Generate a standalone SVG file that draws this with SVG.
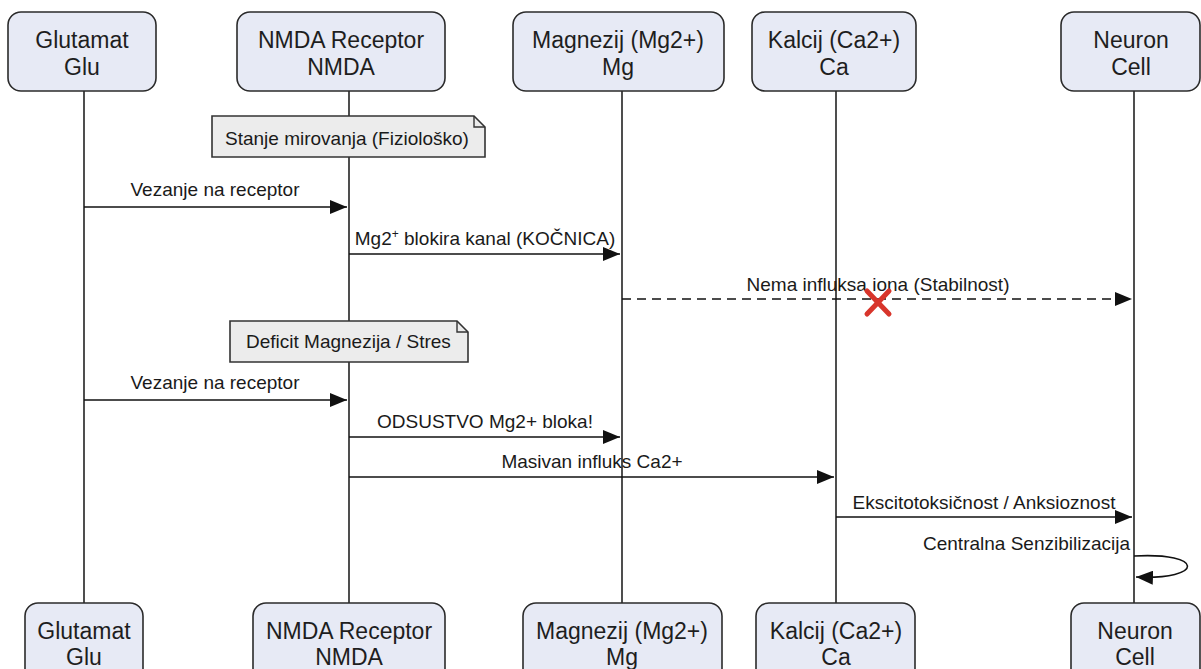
<svg xmlns="http://www.w3.org/2000/svg" width="1201" height="669" viewBox="0 0 1201 669">
<defs>
<style>
.box{fill:#e7eaf5;stroke:#2b2b2b;stroke-width:1.6}
.bt{font-family:"Liberation Sans",Arial,sans-serif;font-size:23px;fill:#1e1e1e;text-anchor:middle}
.life{stroke:#222;stroke-width:1.6;fill:none}
.msg{stroke:#111;stroke-width:1.6;fill:none}
.lbl{font-family:"Liberation Sans",Arial,sans-serif;font-size:19px;fill:#1a1a1a;text-anchor:middle}
.note{fill:#ececec;stroke:#333;stroke-width:1.6}
.nt{font-family:"Liberation Sans",Arial,sans-serif;font-size:19px;fill:#1a1a1a}
</style>
<marker id="ah" markerWidth="18" markerHeight="14" refX="17" refY="7" orient="auto" markerUnits="userSpaceOnUse">
<path d="M0,0 L17,7 L0,14 z" fill="#111"/>
</marker>
</defs>
<rect width="1201" height="669" fill="#ffffff"/>
<g id="lifelines">
<line class="life" x1="84" y1="91" x2="84" y2="603"/>
<line class="life" x1="349" y1="91" x2="349" y2="603"/>
<line class="life" x1="622" y1="91" x2="622" y2="603"/>
<line class="life" x1="836" y1="91" x2="836" y2="603"/>
<line class="life" x1="1134" y1="91" x2="1134" y2="603"/>
</g>
<g id="glu-top"><rect class="box" x="8" y="12" width="148" height="79" rx="13"/><text class="bt" x="82" y="48">Glutamat</text><text class="bt" x="82" y="75">Glu</text></g>
<g id="nmda-top"><rect class="box" x="237" y="12" width="208" height="79" rx="13"/><text class="bt" x="341" y="48">NMDA Receptor</text><text class="bt" x="341" y="75">NMDA</text></g>
<g id="mg-top"><rect class="box" x="513" y="12" width="211" height="79" rx="13"/><text class="bt" x="618" y="48">Magnezij (Mg2+)</text><text class="bt" x="618" y="75">Mg</text></g>
<g id="ca-top"><rect class="box" x="752" y="12" width="164" height="79" rx="13"/><text class="bt" x="834" y="48">Kalcij (Ca2+)</text><text class="bt" x="834" y="75">Ca</text></g>
<g id="neuron-top"><rect class="box" x="1061" y="12" width="139" height="79" rx="13"/><text class="bt" x="1131" y="48">Neuron</text><text class="bt" x="1131" y="75">Cell</text></g>
<g id="glu-bot"><rect class="box" x="25" y="603" width="118" height="80" rx="13"/><text class="bt" x="84" y="639">Glutamat</text><text class="bt" x="84" y="665">Glu</text></g>
<g id="nmda-bot"><rect class="box" x="253" y="603" width="192" height="80" rx="13"/><text class="bt" x="349" y="639">NMDA Receptor</text><text class="bt" x="349" y="665">NMDA</text></g>
<g id="mg-bot"><rect class="box" x="523" y="603" width="199" height="80" rx="13"/><text class="bt" x="622" y="639">Magnezij (Mg2+)</text><text class="bt" x="622" y="665">Mg</text></g>
<g id="ca-bot"><rect class="box" x="756" y="603" width="159" height="80" rx="13"/><text class="bt" x="836" y="639">Kalcij (Ca2+)</text><text class="bt" x="836" y="665">Ca</text></g>
<g id="neuron-bot"><rect class="box" x="1071" y="603" width="129" height="80" rx="13"/><text class="bt" x="1135" y="639">Neuron</text><text class="bt" x="1135" y="665">Cell</text></g>
<g id="note1"><path class="note" d="M212,116 L474,116 L485,127 L485,157 L212,157 Z"/><path d="M474,116 L474,127 L485,127" fill="none" stroke="#333" stroke-width="1.4"/><text class="nt" x="225" y="145">Stanje mirovanja (Fiziološko)</text></g>
<g id="note2"><path class="note" d="M230,321 L457,321 L468,332 L468,362 L230,362 Z"/><path d="M457,321 L457,332 L468,332" fill="none" stroke="#333" stroke-width="1.4"/><text class="nt" x="246" y="348">Deficit Magnezija / Stres</text></g>
<g id="connectors">
<line class="msg" x1="84" y1="207" x2="347" y2="207" marker-end="url(#ah)"/>
<text class="lbl" x="215" y="196">Vezanje na receptor</text>
<line class="msg" x1="349" y1="254" x2="620" y2="254" marker-end="url(#ah)"/>
<text class="lbl" x="485" y="245">Mg2<tspan font-size="12" dy="-7">+</tspan><tspan dy="7"> blokira kanal (KOČNICA)</tspan></text>
<line class="msg" x1="622" y1="299" x2="1132" y2="299" stroke-dasharray="9,6" marker-end="url(#ah)"/>
<text class="lbl" x="878" y="291">Nema influksa iona (Stabilnost)</text>
<line class="msg" x1="84" y1="400" x2="347" y2="400" marker-end="url(#ah)"/>
<text class="lbl" x="215" y="389">Vezanje na receptor</text>
<line class="msg" x1="349" y1="437" x2="620" y2="437" marker-end="url(#ah)"/>
<text class="lbl" x="485" y="428">ODSUSTVO Mg2+ bloka!</text>
<line class="msg" x1="349" y1="477" x2="834" y2="477" marker-end="url(#ah)"/>
<text class="lbl" x="592" y="468">Masivan influks Ca2+</text>
<line class="msg" x1="836" y1="517" x2="1132" y2="517" marker-end="url(#ah)"/>
<text class="lbl" x="984" y="509">Ekscitotoksičnost / Anksioznost</text>
<text class="lbl" x="1130" y="550" style="text-anchor:end">Centralna Senzibilizacija</text>
<path class="msg" d="M1134,556 C1205,552 1205,580 1136,577" marker-end="url(#ah)"/>
</g>
<g id="red-x" stroke="#d8352b" stroke-width="5" stroke-linecap="round">
<line x1="867" y1="291" x2="889" y2="314"/>
<line x1="889" y1="291" x2="867" y2="314"/>
</g>
</svg>
